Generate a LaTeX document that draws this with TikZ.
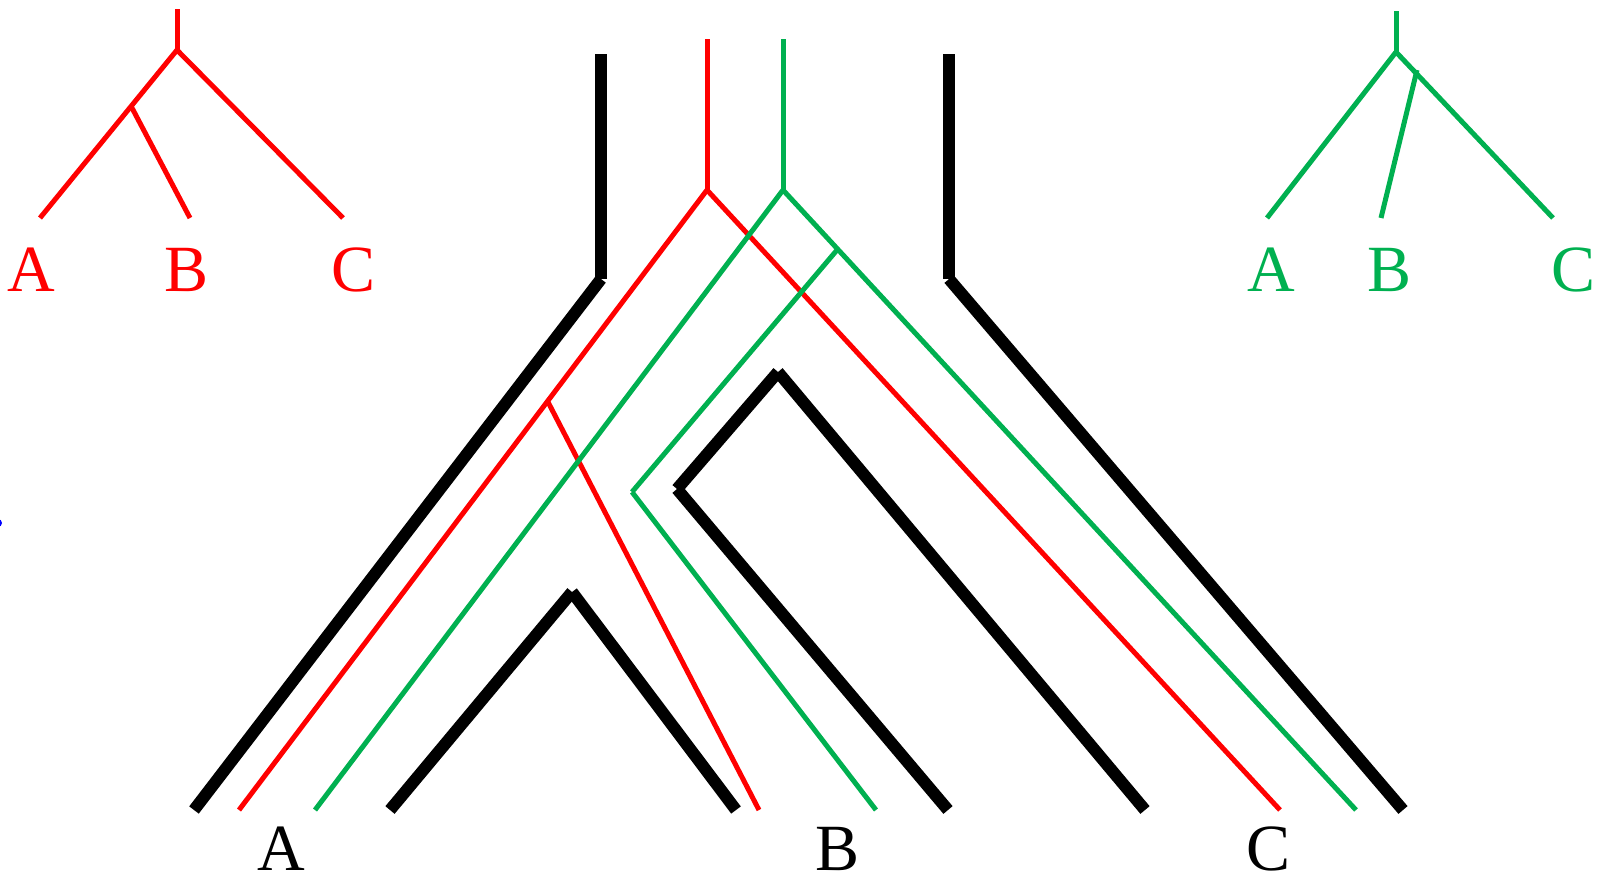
\documentclass[tikz,border=0pt]{standalone}
\usepackage{fontspec}
\setmainfont{Liberation Serif}
\definecolor{genered}{RGB}{255,0,0}
\definecolor{genegreen}{RGB}{0,176,80}

\begin{document}
\begin{tikzpicture}[x=0.5pt, y=-0.5pt, species/.style = {line width=6pt, black}, redgene/.style = {line width=2.5pt, genered}, greengene/.style = {line width=2.5pt, genegreen}, leaf/.style = {font=\fontsize{33}{33}\selectfont, anchor=base, inner sep=0pt}]
\useasboundingbox (0,0) rectangle (1602,878);
\fill[blue] (-2,523) circle (4);
\coordinate (rt) at (177,9);
\coordinate (rr) at (177,50);
\coordinate (rm) at (131,106);
\coordinate (ra) at (40,218);
\coordinate (rb) at (190,218);
\coordinate (rc) at (343,218);
\node[leaf, genered] (rA) at (31,291) {A};
\node[leaf, genered] (rB) at (187,291) {B};
\node[leaf, genered] (rC) at (354,291) {C};
\draw[redgene] (rt) -- (rr);
\draw[redgene] (rr) -- (ra);
\draw[redgene] (rm) -- (rb);
\draw[redgene] (rr) -- (rc);
\coordinate (gt) at (1396,11);
\coordinate (gr) at (1396,52);
\coordinate (gm) at (1417,70);
\coordinate (ga) at (1267,218);
\coordinate (gb) at (1381,218);
\coordinate (gc) at (1553,218);
\node[leaf, genegreen] (gA) at (1271,291) {A};
\node[leaf, genegreen] (gB) at (1389,291) {B};
\node[leaf, genegreen] (gC) at (1573,291) {C};
\draw[greengene] (gt) -- (gr);
\draw[greengene] (gr) -- (ga);
\draw[greengene] (gm) -- (gb);
\draw[greengene] (gr) -- (gc);
\coordinate (s1) at (601,54);
\coordinate (s2) at (601,279);
\coordinate (s3) at (194,810);
\coordinate (s4) at (949,54);
\coordinate (s5) at (949,279);
\coordinate (s6) at (1403,810);
\coordinate (s7) at (778,372);
\coordinate (s8) at (677,489);
\coordinate (s9) at (948,810);
\coordinate (s10) at (1145,810);
\coordinate (s11) at (572,592);
\coordinate (s12) at (390,810);
\coordinate (s13) at (736,810);
\draw[species] (s1) -- (s2);
\draw[species] (s2) -- (s3);
\draw[species] (s4) -- (s5);
\draw[species] (s5) -- (s6);
\draw[species] (s7) -- (s8);
\draw[species] (s8) -- (s9);
\draw[species] (s7) -- (s10);
\draw[species] (s11) -- (s12);
\draw[species] (s11) -- (s13);
\coordinate (r1) at (707,39);
\coordinate (r2) at (707,190);
\coordinate (r3) at (239,810);
\coordinate (r4) at (548,402);
\coordinate (r5) at (759,810);
\coordinate (r6) at (1280,810);
\draw[redgene] (r1) -- (r2);
\draw[redgene] (r2) -- (r3);
\draw[redgene] (r4) -- (r5);
\draw[redgene] (r2) -- (r6);
\coordinate (g1) at (783,39);
\coordinate (g2) at (783,190);
\coordinate (g3) at (315,810);
\coordinate (g4) at (1356,810);
\coordinate (g5) at (837,250);
\coordinate (g6) at (632,492);
\coordinate (g7) at (876,810);
\draw[greengene] (g1) -- (g2);
\draw[greengene] (g2) -- (g3);
\draw[greengene] (g2) -- (g4);
\draw[greengene] (g5) -- (g6);
\draw[greengene] (g6) -- (g7);
\node[leaf] (A) at (281,870) {A};
\node[leaf] (B) at (838,870) {B};
\node[leaf] (C) at (1268,870) {C};
\end{tikzpicture}
\end{document}
